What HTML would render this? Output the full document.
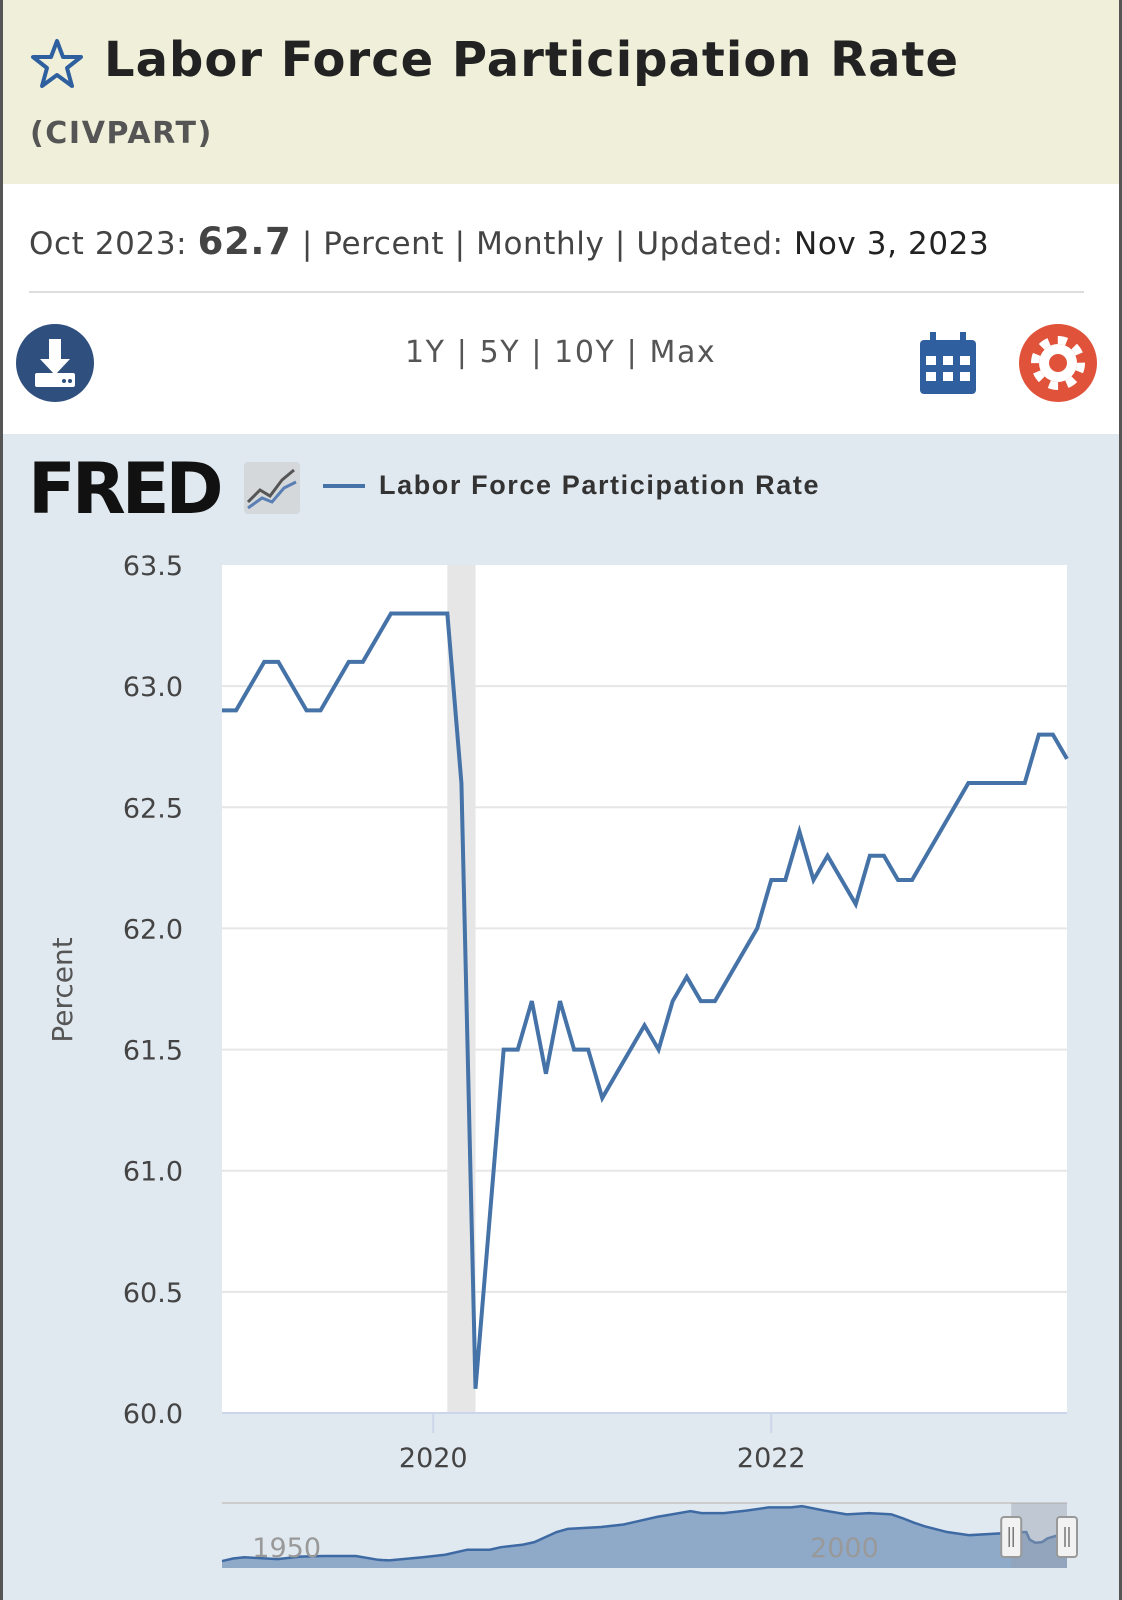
<!DOCTYPE html>
<html><head><meta charset="utf-8">
<style>
body{margin:0;width:1122px;height:1600px;overflow:hidden;font-family:"Liberation Sans",sans-serif;background:#fff;position:relative}
.frame{position:absolute;left:0;top:0;height:1600px;border-left:3px solid #555;border-right:3px solid #555;box-sizing:border-box;width:1122px}
#hdr{position:absolute;left:3px;right:3px;top:0;height:184px;background:#efefda}
#title{position:absolute;left:104px;top:32px;font-size:48px;font-weight:bold;color:#222;font-family:"DejaVu Sans",sans-serif;letter-spacing:1px}
#code{position:absolute;left:30px;top:116px;font-size:30px;font-weight:bold;color:#555;font-family:"DejaVu Sans",sans-serif;letter-spacing:1.6px}
#meta{position:absolute;left:29px;top:220px;font-size:31px;color:#444;font-family:"DejaVu Sans",sans-serif;letter-spacing:0.6px}
#meta b{font-size:37px;color:#444}
#div{position:absolute;left:29px;right:38px;top:291px;height:2px;background:#ddd}
#ranges{position:absolute;left:405px;top:335px;font-size:30px;color:#555;font-family:"DejaVu Sans",sans-serif;letter-spacing:1.6px}
#chartbg{position:absolute;left:3px;right:3px;top:434px;bottom:0;background:#e1e9f0}
</style></head><body>
<div class="frame"></div>
<div id="hdr"></div>
<svg style="position:absolute;left:30px;top:38px" width="54" height="52" viewBox="0 0 54 52"><polygon points="27,3 33,19 51,19 37,30 42,48 27,37 12,48 17,30 3,19 21,19" fill="none" stroke="#2e5f9e" stroke-width="4" stroke-linejoin="round"/></svg>
<div id="title">Labor Force Participation Rate</div>
<div id="code">(CIVPART)</div>
<div id="meta">Oct 2023: <b>62.7</b> | Percent | Monthly | Updated: <span style="color:#222">Nov 3, 2023</span></div>
<div id="div"></div>
<svg style="position:absolute;left:15px;top:323px" width="80" height="80"><circle cx="40" cy="40" r="39" fill="#2f4f7f"/><path d="M34 16h12v20h9L40 52 25 36h9z" fill="#fff"/><rect x="20" y="50" width="40" height="14" rx="2" fill="#fff"/><circle cx="49" cy="58" r="2" fill="#2f4f7f"/><circle cx="55" cy="58" r="2" fill="#2f4f7f"/></svg>
<div id="ranges">1Y | 5Y | 10Y | Max</div>
<svg style="position:absolute;left:920px;top:332px" width="56" height="62"><rect x="0" y="8" width="56" height="54" rx="4" fill="#2f5f9e"/><rect x="10" y="0" width="6" height="14" fill="#2f5f9e"/><rect x="40" y="0" width="6" height="14" fill="#2f5f9e"/><g fill="#fff"><rect x="6" y="24" width="10" height="9"/><rect x="23" y="24" width="10" height="9"/><rect x="40" y="24" width="10" height="9"/><rect x="6" y="40" width="10" height="9"/><rect x="23" y="40" width="10" height="9"/><rect x="40" y="40" width="10" height="9"/></g></svg>
<svg style="position:absolute;left:1018px;top:323px" width="80" height="80"><circle cx="40" cy="40" r="39" fill="#e0533a"/><circle cx="40" cy="40" r="19" fill="#fff"/><circle cx="40" cy="40" r="23" fill="none" stroke="#fff" stroke-width="8" stroke-dasharray="9 9"/><circle cx="40" cy="40" r="9" fill="#e0533a"/></svg>
<div id="chartbg"></div>
<div style="position:absolute;left:28px;top:448px;font-size:70px;font-weight:900;color:#111;letter-spacing:-4px;font-family:'DejaVu Sans',sans-serif">FRED</div>
<svg style="position:absolute;left:244px;top:462px" width="56" height="52"><rect width="56" height="52" rx="4" fill="#d5d8db"/><polyline points="4,40 16,28 26,34 38,18 50,8" fill="none" stroke="#555" stroke-width="3"/><polyline points="4,46 18,36 28,40 40,26 52,20" fill="none" stroke="#5a7fb5" stroke-width="3"/></svg>
<div style="position:absolute;left:323px;top:484px;width:42px;height:4px;background:#4572a7"></div>
<div style="position:absolute;left:379px;top:470px;font-size:27px;font-weight:bold;color:#333;letter-spacing:1.6px">Labor Force Participation Rate</div>
<svg id="chart" style="position:absolute;left:0;top:0" width="1122" height="1600"></svg>
<script>
const yTicks=[60.0,60.5,61.0,61.5,62.0,62.5,63.0,63.5];
const xTickYears=[2020,2022];
const startYear=2018,startMonth=9;
const values=[62.9,62.9,63.0,63.1,63.1,63.0,62.9,62.9,63.0,63.1,63.1,63.2,63.3,63.3,63.3,63.3,63.3,62.6,60.1,60.8,61.5,61.5,61.7,61.4,61.7,61.5,61.5,61.3,61.4,61.5,61.6,61.5,61.7,61.8,61.7,61.7,61.8,61.9,62.0,62.2,62.2,62.4,62.2,62.3,62.2,62.1,62.3,62.3,62.2,62.2,62.3,62.4,62.5,62.6,62.6,62.6,62.6,62.6,62.8,62.8,62.7];
const recession=[[2020,1],[2020,3]];
const navYears=[1948,1949,1950,1951,1953,1955,1957,1960,1962,1963,1966,1968,1970,1972,1973,1975,1976,1978,1979,1981,1982,1984,1985,1987,1988,1990,1991,1993,1995,1997,1999,2000,2002,2004,2006,2008,2009,2010,2011,2013,2015,2017,2019,2020.1,2020.4,2020.9,2021.5,2022,2023,2023.75];
const navValues=[58.6,59.0,59.2,59.1,58.9,59.3,59.4,59.4,58.8,58.7,59.2,59.6,60.4,60.4,60.8,61.2,61.6,63.2,63.7,63.9,64.0,64.4,64.8,65.6,65.9,66.5,66.2,66.2,66.6,67.1,67.1,67.3,66.6,66.0,66.2,66.0,65.4,64.7,64.1,63.2,62.7,62.9,63.1,63.2,62.0,61.5,61.6,62.2,62.7,62.7];
const S='http://www.w3.org/2000/svg';
const svg=document.getElementById('chart');
const L=222,R=1067,T=565,B=1413;
const yMin=60,yMax=63.5;
const y=v=>B-(v-yMin)/(yMax-yMin)*(B-T);
const mIdx=(yr,m)=>(yr-startYear)*12+(m-startMonth);
const total=values.length-1;
const x=i=>L+i/total*(R-L);
function mk(t,a){const e=document.createElementNS(S,t);for(const k in a)e.setAttribute(k,a[k]);svg.appendChild(e);return e;}
let e=mk('rect',{x:L,y:T,width:R-L,height:B-T,fill:'#fff'});


e=mk('rect',{x:x(mIdx(...recession[0])),y:T,width:x(mIdx(...recession[1]))-x(mIdx(...recession[0])),height:B-T,fill:'#e6e6e6'});


yTicks.forEach(v=>{
 if(v>yMin&&v<yMax){const g=mk('line',{x1:L,x2:R,y1:y(v),y2:y(v),stroke:'#e6e6e6','stroke-width':2});
 
 }
 const t=mk('text',{x:183,y:y(v)+10,'text-anchor':'end','font-size':27,fill:'#444','font-family':'DejaVu Sans, sans-serif'});
 t.textContent=v.toFixed(1);
 
 
});
e=mk('line',{x1:L,x2:R,y1:B,y2:B,stroke:'#ccd6eb','stroke-width':2});


xTickYears.forEach(yr=>{
 const xx=x(mIdx(yr,0));
 const l=mk('line',{x1:xx,x2:xx,y1:B,y2:B+20,stroke:'#ccd6eb','stroke-width':2});
 
 
 const t=mk('text',{x:xx,y:B+54,'text-anchor':'middle','font-size':27,fill:'#444','font-family':'DejaVu Sans, sans-serif'});
 t.textContent=yr;
 
 
});
e=mk('text',{x:0,y:0,transform:'translate(72,990) rotate(-90)','text-anchor':'middle','font-size':28,fill:'#555','font-family':'DejaVu Sans, sans-serif'});
e.textContent='Percent';


e=mk('polyline',{points:values.map((v,i)=>x(i)+','+y(v)).join(' '),fill:'none',stroke:'#4572a7','stroke-width':4,'stroke-linejoin':'miter'});


// navigator
const NT=1503,NB=1568,n0=1948,n1=2023.75;
const nx=yr=>L+(yr-n0)/(n1-n0)*(R-L);
const ny=v=>NB-(v-57.5)/(67.8-57.5)*(NB-NT);
e=mk('line',{x1:L,x2:R,y1:NT,y2:NT,stroke:'#ccc','stroke-width':2});


const pts=navValues.map((v,i)=>nx(navYears[i])+','+ny(v));
e=mk('polygon',{points:L+','+NB+' '+pts.join(' ')+' '+R+','+NB,fill:'#8fa9c9'});


e=mk('polyline',{points:pts.join(' '),fill:'none',stroke:'#3e6aa4','stroke-width':2.5});


e=mk('rect',{x:nx(2018.75),y:NT,width:R-nx(2018.75),height:NB-NT,fill:'rgba(150,160,175,0.45)'});


[['1950',1950],['2000',2000]].forEach(([s,yr])=>{
 const t=mk('text',{x:nx(yr)+8,y:1557,'text-anchor':'start','font-size':27,fill:'#999','font-family':'DejaVu Sans, sans-serif'});
 t.textContent=s;
 
 
});
[nx(2018.75),R].forEach(hx=>{
 const h=mk('rect',{x:hx-10,y:1517,width:20,height:40,rx:3,fill:'#f2f2f2',stroke:'#999','stroke-width':2});
 
 
 mk('line',{x1:hx-2,x2:hx-2,y1:1527,y2:1547,stroke:'#777','stroke-width':1.5});
 mk('line',{x1:hx+2,x2:hx+2,y1:1527,y2:1547,stroke:'#777','stroke-width':1.5});
});
</script>
</body></html>
